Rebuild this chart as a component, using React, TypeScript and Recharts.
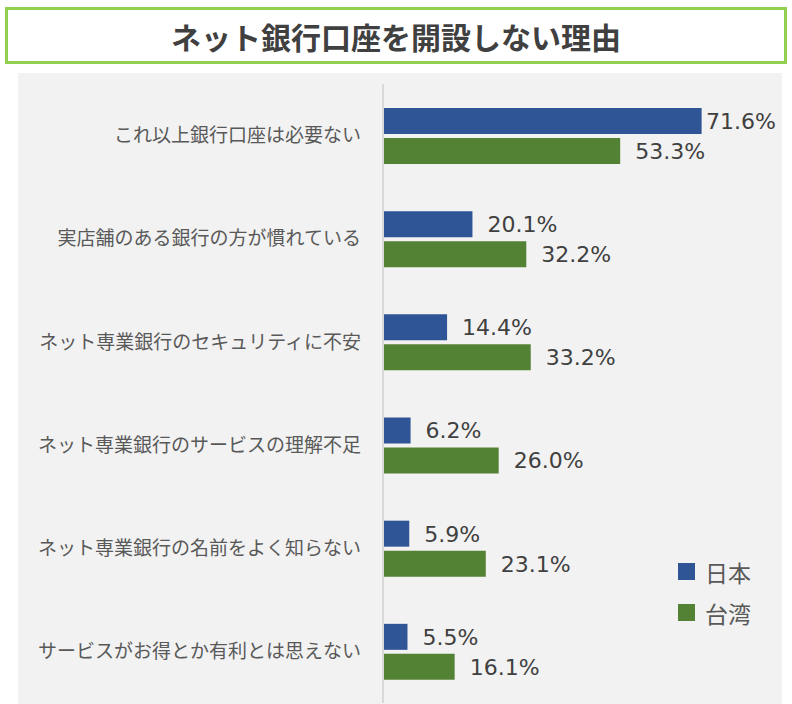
import React from 'react';
import { BarChart, Bar, XAxis, YAxis, LabelList } from 'recharts';

const categories = [
  'これ以上銀行口座は必要ない',
  '実店舗のある銀行の方が慣れている',
  'ネット専業銀行のセキュリティに不安',
  'ネット専業銀行のサービスの理解不足',
  'ネット専業銀行の名前をよく知らない',
  'サービスがお得とか有利とは思えない',
];
const japanValues = [71.6, 20.1, 14.4, 6.2, 5.9, 5.5];
const taiwanValues = [53.3, 32.2, 33.2, 26.0, 23.1, 16.1];
const seriesNames = ['日本', '台湾'];
const seriesColors = ['#2F5597', '#548235'];

const data = categories.map((name, i) => ({
  name,
  japan: japanValues[i],
  taiwan: taiwanValues[i],
}));

const JP_FONT = '"Noto Sans CJK JP", "Noto Sans", sans-serif';

// value label to the right of the bar; pulled back in when it would run off the panel
const ValueLabel = (props: any) => {
  const { x, y, width, height, value } = props;
  const textX = Math.min(x + width + 15, 706);
  return (
    <text
      x={textX}
      y={y + height / 2}
      dy="0.36em"
      fill="#404040"
      fontSize={22}
      fontFamily="'DejaVu Sans', Verdana, sans-serif"
    >
      {`${Number(value).toFixed(1)}%`}
    </text>
  );
};

export default function App() {
  return (
    <div style={{ position: 'absolute', left: 0, top: 0, width: 792, height: 704, background: '#fff', overflow: 'hidden' }}>
      <div
        style={{
          position: 'absolute',
          left: 5,
          top: 7,
          width: 782,
          height: 57,
          boxSizing: 'border-box',
          border: '3px solid #92D050',
          display: 'flex',
          alignItems: 'center',
          justifyContent: 'center',
          fontFamily: JP_FONT,
          fontWeight: 700,
          fontSize: 30,
          color: '#404040',
        }}
      >
        ネット銀行口座を開設しない理由
      </div>
      <div style={{ position: 'absolute', left: 18, top: 73, width: 764, height: 631, background: '#f2f2f2' }} />
      <div style={{ position: 'absolute', left: 0, top: 0 }}>
        <BarChart
          width={792}
          height={704}
          data={data}
          layout="vertical"
          margin={{ top: 84, right: 53, bottom: 1, left: 18 }}
          barGap={4}
        >
          <XAxis type="number" domain={[0, 80]} hide />
          <YAxis
            type="category"
            dataKey="name"
            width={365}
            tickLine={false}
            tickSize={0}
            tickMargin={22}
            axisLine={{ stroke: '#d9d9d9', strokeWidth: 2 }}
            tick={{ fill: '#595959', fontSize: 19, fontFamily: JP_FONT }}
            interval={0}
          />
          <Bar dataKey="japan" name={seriesNames[0]} fill={seriesColors[0]} barSize={26} isAnimationActive={false}>
            <LabelList dataKey="japan" content={<ValueLabel />} />
          </Bar>
          <Bar dataKey="taiwan" name={seriesNames[1]} fill={seriesColors[1]} barSize={26} isAnimationActive={false}>
            <LabelList dataKey="taiwan" content={<ValueLabel />} />
          </Bar>
        </BarChart>
      </div>
      <div style={{ position: 'absolute', left: 678, top: 551 }}>
        {seriesNames.map((n, i) => (
          <div key={n} style={{ display: 'flex', alignItems: 'center', height: 41 }}>
            <span style={{ width: 17, height: 17, background: seriesColors[i], display: 'inline-block', marginRight: 10 }} />
            <span style={{ fontSize: 23, color: '#595959', fontFamily: JP_FONT }}>{n}</span>
          </div>
        ))}
      </div>
    </div>
  );
}
